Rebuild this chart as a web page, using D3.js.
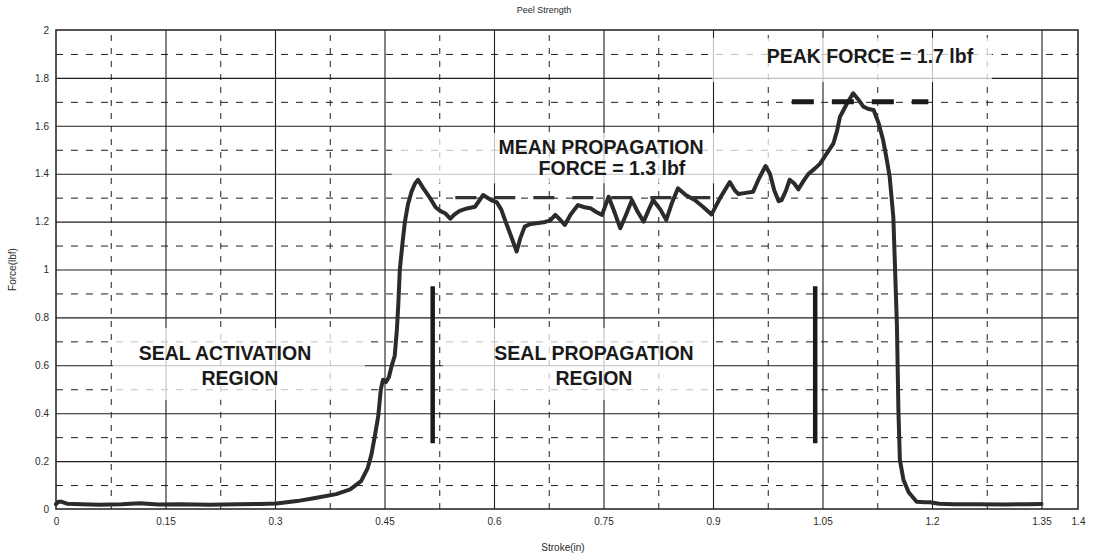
<!DOCTYPE html>
<html>
<head>
<meta charset="utf-8">
<script src="https://cdn.jsdelivr.net/npm/d3@7"></script>
<style>
  html, body { margin: 0; padding: 0; background: #fff; }
  svg { display: block; font-family: "Liberation Sans", Arial, sans-serif; }
</style>
</head>
<body>
<svg id="chart" width="1094" height="556"></svg>
<script>
// Peel test trace: stroke (in) vs force (lbf)
const strokeIn = [
  0.000, 0.003, 0.008, 0.015, 0.035, 0.060, 0.090, 0.115, 0.140, 0.170,
  0.210, 0.250, 0.280, 0.302, 0.330, 0.355, 0.384, 0.403, 0.418, 0.427,
  0.432, 0.437, 0.4415, 0.445, 0.448, 0.452, 0.456, 0.460, 0.464, 0.467,
  0.469, 0.471, 0.475, 0.478, 0.482, 0.487, 0.492, 0.496, 0.503, 0.512,
  0.520, 0.526, 0.533, 0.540, 0.546, 0.553, 0.563, 0.574, 0.585, 0.596,
  0.604, 0.610, 0.615, 0.622, 0.631, 0.636, 0.642, 0.650, 0.658, 0.668,
  0.677, 0.684, 0.690, 0.697, 0.705, 0.715, 0.724, 0.732, 0.740, 0.748,
  0.757, 0.765, 0.773, 0.781, 0.789, 0.797, 0.805, 0.812, 0.818, 0.828,
  0.836, 0.844, 0.852, 0.863, 0.875, 0.887, 0.898, 0.910, 0.923, 0.930,
  0.935, 0.945, 0.955, 0.963, 0.972, 0.978, 0.984, 0.990, 0.994, 1.000,
  1.005, 1.011, 1.017, 1.024, 1.031, 1.039, 1.047, 1.057, 1.065, 1.070,
  1.074, 1.083, 1.092, 1.099, 1.106, 1.113, 1.120, 1.127, 1.133, 1.138,
  1.142, 1.147, 1.149, 1.152, 1.154, 1.156, 1.161, 1.168, 1.179, 1.190,
  1.197, 1.210, 1.230, 1.260, 1.300, 1.330, 1.350
];
const forceLbf = [
  0.020, 0.030, 0.030, 0.022, 0.020, 0.018, 0.020, 0.024, 0.019, 0.020,
  0.018, 0.020, 0.021, 0.023, 0.033, 0.046, 0.062, 0.082, 0.116, 0.171,
  0.226, 0.308, 0.390, 0.500, 0.540, 0.530, 0.550, 0.600, 0.640, 0.750,
  0.860, 1.000, 1.120, 1.200, 1.270, 1.325, 1.360, 1.374, 1.340, 1.300,
  1.260, 1.245, 1.235, 1.212, 1.230, 1.245, 1.255, 1.262, 1.311, 1.290,
  1.280, 1.250, 1.207, 1.150, 1.075, 1.130, 1.179, 1.190, 1.193, 1.197,
  1.205, 1.228, 1.210, 1.186, 1.230, 1.269, 1.260, 1.256, 1.240, 1.228,
  1.304, 1.240, 1.172, 1.230, 1.290, 1.240, 1.200, 1.250, 1.290, 1.250,
  1.207, 1.280, 1.339, 1.310, 1.290, 1.260, 1.230, 1.300, 1.365, 1.330,
  1.315, 1.320, 1.325, 1.380, 1.432, 1.400, 1.330, 1.285, 1.290, 1.330,
  1.375, 1.360, 1.335, 1.370, 1.400, 1.420, 1.443, 1.490, 1.527, 1.580,
  1.638, 1.690, 1.736, 1.710, 1.680, 1.670, 1.666, 1.610, 1.541, 1.460,
  1.388, 1.220, 1.040, 0.760, 0.410, 0.205, 0.121, 0.070, 0.030, 0.028,
  0.028, 0.022, 0.020, 0.020, 0.019, 0.020, 0.021
];

const xTickValues = [0, 0.15, 0.3, 0.45, 0.6, 0.75, 0.9, 1.05, 1.2, 1.35, 1.4];
const xTickLabels = ["0", "0.15", "0.3", "0.45", "0.6", "0.75", "0.9", "1.05", "1.2", "1.35", "1.4"];
const yTickValues = [0, 0.2, 0.4, 0.6, 0.8, 1, 1.2, 1.4, 1.6, 1.8, 2];
const yTickLabels = ["0", "0.2", "0.4", "0.6", "0.8", "1", "1.2", "1.4", "1.6", "1.8", "2"];

// grid: solid major lines and dashed minor lines
const xMajorGrid = [0.15, 0.3, 0.45, 0.6, 0.75, 0.9, 1.05, 1.2, 1.35];
const xMinorGrid = [0.075, 0.225, 0.375, 0.525, 0.675, 0.825, 0.975, 1.125, 1.275];
const yMajorGrid = [0.2, 0.4, 0.6, 0.8, 1, 1.2, 1.4, 1.6, 1.8];
const yMinorGrid = [0.1, 0.3, 0.5, 0.7, 0.9, 1.1, 1.3, 1.5, 1.7, 1.9];

// reference levels stated in the annotations
const meanForce = 1.3;
const meanSpan = [0.547, 0.898];
const peakForce = 1.7;
const peakSpan = [1.008, 1.195];

// region separators (stroke position, force extent)
const dividerStroke = [0.516, 1.04];
const dividerExtent = [0.275, 0.93];

// annotation text blocks, anchored in data units
const labelLines = [
  { text: "PEAK FORCE = 1.7 lbf", x: 1.115, y: 1.862 },
  { text: "MEAN PROPAGATION", x: 0.7466, y: 1.483 },
  { text: "FORCE = 1.3 lbf", x: 0.7616, y: 1.395 },
  { text: "SEAL ACTIVATION", x: 0.2315, y: 0.624 },
  { text: "REGION", x: 0.252, y: 0.518 },
  { text: "SEAL PROPAGATION", x: 0.737, y: 0.622 },
  { text: "REGION", x: 0.737, y: 0.516 }
];
// translucent backing panels behind the annotation text [x0, x1, y0, y1]
const labelPanels = [
  [0.899, 1.282, 1.783, 1.967],
  [0.46, 1.03, 1.36, 1.57],
  [0.078, 0.423, 0.455, 0.756],
  [0.53, 0.90, 0.455, 0.756]
];

const svg = d3.select("#chart");
const W = 1094, H = 556;
const margin = { left: 56, right: W - 1078, top: 30, bottom: H - 509 };
const x = d3.scaleLinear().domain([0, 1.4]).range([margin.left, W - margin.right]);
const y = d3.scaleLinear().domain([0, 2]).range([H - margin.bottom, margin.top]);
const plotH = y(0) - y(2);
const plotW = x(1.4) - x(0);

const ink = "#1e1e1e";

// vertical grid lines via axis generators
function vGrid(values, dashed) {
  const g = svg.append("g")
    .attr("transform", `translate(0,${y(0)})`)
    .call(d3.axisBottom(x).tickValues(values).tickSize(-plotH).tickFormat(""));
  g.select(".domain").remove();
  g.selectAll(".tick line")
    .attr("stroke", ink)
    .attr("stroke-width", dashed ? 1 : 1.1)
    .attr("stroke-dasharray", dashed ? "6,7" : null);
}
function hGrid(values, dashed) {
  const g = svg.append("g")
    .attr("transform", `translate(${x(0)},0)`)
    .call(d3.axisLeft(y).tickValues(values).tickSize(-plotW).tickFormat(""));
  g.select(".domain").remove();
  g.selectAll(".tick line")
    .attr("stroke", ink)
    .attr("stroke-width", dashed ? 1 : 1.1)
    .attr("stroke-dasharray", dashed ? "7,8" : null);
}
vGrid(xMinorGrid, true);
hGrid(yMinorGrid, true);
vGrid(xMajorGrid, false);
hGrid(yMajorGrid, false);

// backing panels that soften the grid under the annotation text
svg.append("g").selectAll("rect")
  .data(labelPanels)
  .join("rect")
  .attr("x", d => x(d[0]))
  .attr("y", d => y(d[3]))
  .attr("width", d => x(d[1]) - x(d[0]))
  .attr("height", d => y(d[2]) - y(d[3]))
  .attr("fill", "#fff")
  .attr("fill-opacity", 0.72);

// plot frame
svg.append("rect")
  .attr("x", x(0)).attr("y", y(2))
  .attr("width", plotW).attr("height", plotH)
  .attr("fill", "none")
  .attr("stroke", ink)
  .attr("stroke-width", 1.5);

// axes with tick labels only
const xAxis = svg.append("g")
  .attr("transform", `translate(0,${y(0)})`)
  .call(d3.axisBottom(x).tickValues(xTickValues).tickSize(0).tickPadding(9)
    .tickFormat((d, i) => xTickLabels[i]));
xAxis.select(".domain").remove();
xAxis.selectAll("text")
  .attr("font-family", "Liberation Sans, Arial, sans-serif")
  .attr("font-size", 10).attr("fill", "#2a2a2a");

const yAxis = svg.append("g")
  .attr("transform", `translate(${x(0)},0)`)
  .call(d3.axisLeft(y).tickValues(yTickValues).tickSize(0).tickPadding(7)
    .tickFormat((d, i) => yTickLabels[i]));
yAxis.select(".domain").remove();
yAxis.selectAll("text")
  .attr("font-family", "Liberation Sans, Arial, sans-serif")
  .attr("font-size", 10).attr("fill", "#2a2a2a");

// force trace
const trace = strokeIn.map((s, i) => [s, forceLbf[i]]);
svg.append("path")
  .datum(trace)
  .attr("fill", "none")
  .attr("stroke", "#2b2b2b")
  .attr("stroke-width", 4)
  .attr("stroke-linejoin", "round")
  .attr("stroke-linecap", "round")
  .attr("d", d3.line().x(d => x(d[0])).y(d => y(d[1])));

// mean propagation level
svg.append("line")
  .attr("x1", x(meanSpan[0])).attr("x2", x(meanSpan[1]))
  .attr("y1", y(meanForce)).attr("y2", y(meanForce))
  .attr("stroke", "#333").attr("stroke-width", 3.2)
  .attr("stroke-dasharray", "21,18");

// peak level
svg.append("line")
  .attr("x1", x(peakSpan[0])).attr("x2", x(peakSpan[1]))
  .attr("y1", y(peakForce)).attr("y2", y(peakForce))
  .attr("stroke", "#1a1a1a").attr("stroke-width", 5)
  .attr("stroke-dasharray", "22,18");

// region dividers
svg.append("g").selectAll("line")
  .data(dividerStroke)
  .join("line")
  .attr("x1", d => x(d)).attr("x2", d => x(d))
  .attr("y1", y(dividerExtent[0])).attr("y2", y(dividerExtent[1]))
  .attr("stroke", "#1a1a1a").attr("stroke-width", 4.5);

// annotation text
svg.append("g").selectAll("text")
  .data(labelLines)
  .join("text")
  .attr("x", d => x(d.x))
  .attr("y", d => y(d.y))
  .attr("text-anchor", "middle")
  .attr("font-family", "Liberation Sans, Arial, sans-serif")
  .attr("font-weight", "bold")
  .attr("font-size", 19.5)
  .attr("fill", "#1a1a1a")
  .text(d => d.text);

// title and axis titles
svg.append("text")
  .attr("x", 544).attr("y", 13)
  .attr("text-anchor", "middle")
  .attr("font-size", 9).attr("fill", "#2a2a2a")
  .text("Peel Strength");

svg.append("text")
  .attr("x", (x(0) + x(1.4)) / 2 - 4).attr("y", 551)
  .attr("text-anchor", "middle")
  .attr("font-size", 10).attr("fill", "#2a2a2a")
  .text("Stroke(in)");

svg.append("text")
  .attr("transform", `translate(16,${(y(0) + y(2)) / 2}) rotate(-90)`)
  .attr("text-anchor", "middle")
  .attr("font-size", 10).attr("fill", "#2a2a2a")
  .text("Force(lbf)");
</script>
</body>
</html>
